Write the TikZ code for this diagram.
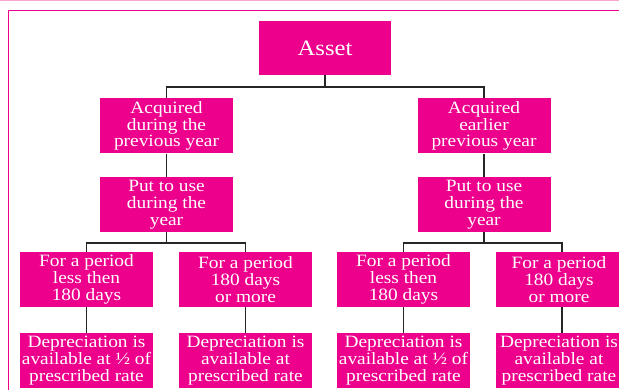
\documentclass[tikz,border=0pt]{standalone}
\usepackage{fontspec}
\newfontfamily\boxfont{Liberation Serif}[FakeStretch=1.12]
\definecolor{mag}{HTML}{EC008C}
\definecolor{lightmag}{HTML}{F7A6D2}
\tikzset{
  x=1pt, y=-1pt,
  pbox/.style={fill=mag, text=white, inner sep=0pt, minimum width=133pt, minimum height=55pt,
    align=center, font=\boxfont\fontsize{17.3}{16.8}\selectfont},
  ebox/.style={pbox, minimum width=126pt},
  tbox/.style={pbox, minimum width=132pt, minimum height=54pt, font=\boxfont\fontsize{22}{23}\selectfont},
  conn/.style={draw=black!85, line width=1.5pt},
  frame/.style={draw=mag, line width=1pt}
}
\begin{document}
\begin{tikzpicture}
\useasboundingbox (0,0) rectangle (619,390);
\clip (0,0) rectangle (619,390);
\draw[lightmag, line width=0.6pt] (0,0.6) -- (619,0.6);
\draw[frame] (8.8,390) -- (8.8,10.5) -- (619,10.5);

\node[tbox] (asset) at (325,48) {Asset};

\node[pbox] (acqA) at (166.5,126) {Acquired\\during the\\previous year};
\node[pbox] (acqB) at (484,126) {Acquired\\earlier\\previous year};

\node[pbox] (useA) at (166.5,204.5) {Put to use\\during the\\year};
\node[pbox] (useB) at (484,204.5) {Put to use\\during the\\year};

\node[pbox] (lessA) at (86.5,279.5) {For a period\\less then\\180 days};
\node[pbox] (moreA) at (245.5,279.5) {For a period\\180 days\\or more};
\node[pbox] (lessB) at (403.5,279.5) {For a period\\less then\\180 days};
\node[ebox] (moreB) at (559,279.5) {For a period\\180 days\\or more};

\node[pbox] (halfA) at (86.5,360.5) {Depreciation is\\available at ½ of\\prescribed rate};
\node[pbox] (fullA) at (245.5,360.5) {Depreciation is\\available at\\prescribed rate};
\node[pbox] (halfB) at (403.5,360.5) {Depreciation is\\available at ½ of\\prescribed rate};
\node[ebox] (fullB) at (559,360.5) {Depreciation is\\available at\\prescribed rate};

\draw[conn] (asset.south) -- ++(0,12) -| (acqA.north);
\draw[conn] (asset.south) -- ++(0,12) -| (acqB.north);
\draw[conn] (acqA.south) -- (useA.north);
\draw[conn] (acqB.south) -- (useB.north);
\draw[conn] (useA.south) -- ++(0,11) -| (lessA.north);
\draw[conn] (useA.south) -- ++(0,11) -| (moreA.north);
\draw[conn] (useB.south) -- ++(0,11) -| (lessB.north);
\draw[conn] (useB.south) -- ++(0,11) -| ([xshift=3pt]moreB.north);
\draw[conn] (lessA.south) -- (halfA.north);
\draw[conn] (moreA.south) -- (fullA.north);
\draw[conn] (lessB.south) -- (halfB.north);
\draw[conn] ([xshift=3pt]moreB.south) -- ([xshift=3pt]fullB.north);
\end{tikzpicture}
\end{document}
